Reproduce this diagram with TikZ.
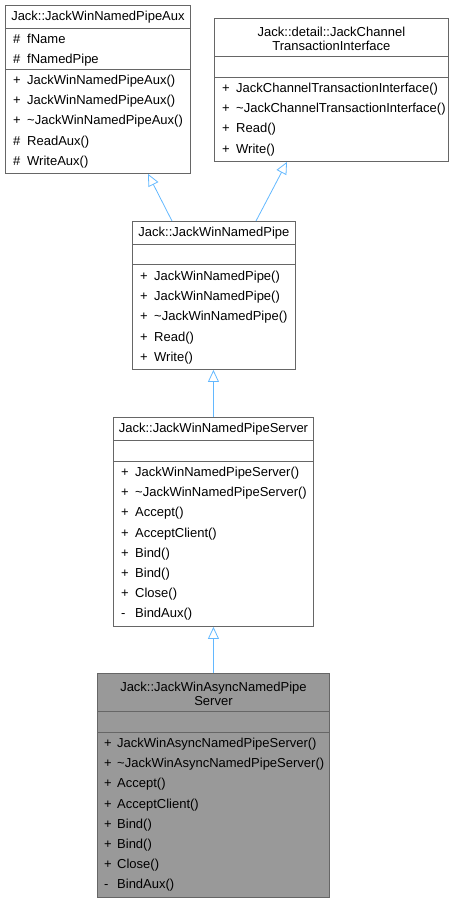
\documentclass[tikz,border=0pt]{standalone}
\usepackage{fontspec}
\setmainfont{Liberation Sans}
\usepackage{tikz}
\usetikzlibrary{positioning, arrows.meta, calc}
\usepackage{xcolor}

\definecolor{boxline}{HTML}{666666}
\definecolor{edgeblue}{HTML}{63B8FF}
\definecolor{focusgray}{HTML}{999999}

\tikzset{
  classbox/.style={draw=boxline, fill=white, rectangle, inner sep=0pt, anchor=north west, line width=0.9pt},
  classtitle/.style={inner sep=0pt, align=center, font=\fontsize{13}{14}\selectfont},
  member/.style={inner sep=0pt, anchor=base west, font=\fontsize{13}{14}\selectfont},
  inherit/.style={draw=edgeblue, line width=0.8pt, -{Triangle[open, length=12pt, width=11pt]}},
}

\begin{document}
\begin{tikzpicture}[x=1pt, y=-1pt]
\useasboundingbox (0,0) rectangle (453,903);

% Base class with attributes
\node[classbox, minimum width=185pt, minimum height=168pt] (aux) at (5,5) {};
\draw[boxline, line width=0.9pt] ([yshift=-23pt]aux.north west) -- ([yshift=-23pt]aux.north east);
\draw[boxline, line width=0.9pt] ([yshift=-64pt]aux.north west) -- ([yshift=-64pt]aux.north east);
\node[classtitle] (aux-title) at ([yshift=-12.5pt]aux.north) {Jack::JackWinNamedPipeAux};
\foreach \s/\t [count=\i] in {\#/fName, \#/fNamedPipe} {
  \node[member] (aux-as\i) at ([xshift=8pt, yshift={-18.3pt-20.2pt*\i}]aux.north west) {\s};
  \node[member] (aux-a\i) at ([xshift=22pt, yshift={-18.3pt-20.2pt*\i}]aux.north west) {\t};
}
\foreach \s/\t [count=\i] in {+/JackWinNamedPipeAux(), +/JackWinNamedPipeAux(), +/\textasciitilde JackWinNamedPipeAux(), \#/ReadAux(), \#/WriteAux()} {
  \node[member] (aux-ms\i) at ([xshift=8pt, yshift={-59.3pt-20.2pt*\i}]aux.north west) {\s};
  \node[member] (aux-m\i) at ([xshift=22pt, yshift={-59.3pt-20.2pt*\i}]aux.north west) {\t};
}

% Channel interface
\node[classbox, minimum width=234pt, minimum height=143pt] (chan) at (214,18) {};
\draw[boxline, line width=0.9pt] ([yshift=-38pt]chan.north west) -- ([yshift=-38pt]chan.north east);
\draw[boxline, line width=0.9pt] ([yshift=-59pt]chan.north west) -- ([yshift=-59pt]chan.north east);
\node[classtitle] (chan-title) at ([yshift=-21pt]chan.north) {Jack::detail::JackChannel\\TransactionInterface};
\foreach \s/\t [count=\i] in {+/JackChannelTransactionInterface(), +/\textasciitilde JackChannelTransactionInterface(), +/Read(), +/Write()} {
  \node[member] (chan-ms\i) at ([xshift=8pt, yshift={-54.3pt-20.2pt*\i}]chan.north west) {\s};
  \node[member] (chan-m\i) at ([xshift=22pt, yshift={-54.3pt-20.2pt*\i}]chan.north west) {\t};
}

% Named pipe
\node[classbox, minimum width=163pt, minimum height=148pt] (pipe) at (132,221) {};
\draw[boxline, line width=0.9pt] ([yshift=-23pt]pipe.north west) -- ([yshift=-23pt]pipe.north east);
\draw[boxline, line width=0.9pt] ([yshift=-43pt]pipe.north west) -- ([yshift=-43pt]pipe.north east);
\node[classtitle] (pipe-title) at ([yshift=-12.5pt]pipe.north) {Jack::JackWinNamedPipe};
\foreach \s/\t [count=\i] in {+/JackWinNamedPipe(), +/JackWinNamedPipe(), +/\textasciitilde JackWinNamedPipe(), +/Read(), +/Write()} {
  \node[member] (pipe-ms\i) at ([xshift=8pt, yshift={-39.3pt-20.2pt*\i}]pipe.north west) {\s};
  \node[member] (pipe-m\i) at ([xshift=22pt, yshift={-39.3pt-20.2pt*\i}]pipe.north west) {\t};
}

% Named pipe server
\node[classbox, minimum width=200pt, minimum height=209pt] (server) at (113,417) {};
\draw[boxline, line width=0.9pt] ([yshift=-23pt]server.north west) -- ([yshift=-23pt]server.north east);
\draw[boxline, line width=0.9pt] ([yshift=-44pt]server.north west) -- ([yshift=-44pt]server.north east);
\node[classtitle] (server-title) at ([yshift=-12.5pt]server.north) {Jack::JackWinNamedPipeServer};
\foreach \s/\t [count=\i] in {+/JackWinNamedPipeServer(), +/\textasciitilde JackWinNamedPipeServer(), +/Accept(), +/AcceptClient(), +/Bind(), +/Bind(), +/Close(), -/BindAux()} {
  \node[member] (server-ms\i) at ([xshift=8pt, yshift={-39.3pt-20.2pt*\i}]server.north west) {\s};
  \node[member] (server-m\i) at ([xshift=22pt, yshift={-39.3pt-20.2pt*\i}]server.north west) {\t};
}

% Async server (this class)
\node[classbox, fill=focusgray, minimum width=232pt, minimum height=224pt] (async) at (97,673) {};
\draw[boxline, line width=0.9pt] ([yshift=-38pt]async.north west) -- ([yshift=-38pt]async.north east);
\draw[boxline, line width=0.9pt] ([yshift=-59pt]async.north west) -- ([yshift=-59pt]async.north east);
\node[classtitle] (async-title) at ([yshift=-21pt]async.north) {Jack::JackWinAsyncNamedPipe\\Server};
\foreach \s/\t [count=\i] in {+/JackWinAsyncNamedPipeServer(), +/\textasciitilde JackWinAsyncNamedPipeServer(), +/Accept(), +/AcceptClient(), +/Bind(), +/Bind(), +/Close(), -/BindAux()} {
  \node[member] (async-ms\i) at ([xshift=7pt, yshift={-54.3pt-20.2pt*\i}]async.north west) {\s};
  \node[member] (async-m\i) at ([xshift=20pt, yshift={-54.3pt-20.2pt*\i}]async.north west) {\t};
}

% Inheritance arrows
\draw[inherit] ([xshift=40pt]pipe.north west) -- ([xshift=143pt]aux.south west);
\draw[inherit] ([xshift=124pt]pipe.north west) -- ([xshift=73pt]chan.south west);
\draw[inherit] (server.north) -- (server.north |- pipe.south);
\draw[inherit] (async.north) -- (async.north |- server.south);
\end{tikzpicture}
\end{document}
